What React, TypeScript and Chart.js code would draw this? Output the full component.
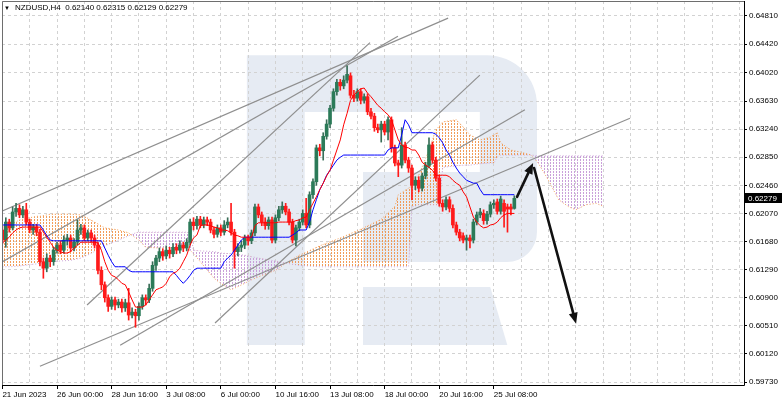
import React, { useEffect, useRef } from 'react';
import { Chart, registerables } from 'chart.js';

Chart.register(...registerables);

// ---------- data (bar index = position in arrays, H4 bars) ----------
const OPEN = [
  0.6184, 0.6170, 0.6195, 0.6187, 0.6209, 0.6214, 0.6205, 0.6212, 0.6195, 0.6184,
  0.6188, 0.6181, 0.6140, 0.6131, 0.6145, 0.6140, 0.6156, 0.6163, 0.6156, 0.6170,
  0.6173, 0.6159, 0.6167, 0.6184, 0.6187, 0.6173, 0.6180, 0.6173, 0.6163, 0.6128,
  0.6108, 0.6090, 0.6078, 0.6087, 0.6080, 0.6084, 0.6076, 0.6083, 0.6066, 0.6070,
  0.6065, 0.6078, 0.6090, 0.6087, 0.6103, 0.6135, 0.6145, 0.6154, 0.6148, 0.6156,
  0.6151, 0.6160, 0.6156, 0.6163, 0.6159, 0.6167, 0.6195, 0.6190, 0.6199, 0.6191,
  0.6198, 0.6195, 0.6184, 0.6178, 0.6187, 0.6181, 0.6191, 0.6195, 0.6181, 0.6154,
  0.6160, 0.6163, 0.6173, 0.6169, 0.6180, 0.6216, 0.6205, 0.6195, 0.6190, 0.6198,
  0.6170, 0.6201, 0.6212, 0.6217, 0.6209, 0.6195, 0.6170, 0.6187, 0.6195, 0.6207,
  0.6191, 0.6233, 0.6251, 0.6298, 0.6294, 0.6314, 0.6331, 0.6353, 0.6376, 0.6389,
  0.6384, 0.6392, 0.6398, 0.6371, 0.6367, 0.6376, 0.6364, 0.6369, 0.6348, 0.6342,
  0.6326, 0.6323, 0.6331, 0.6320, 0.6337, 0.6298, 0.6277, 0.6274, 0.6302, 0.6281,
  0.6270, 0.6246, 0.6253, 0.6242, 0.6259, 0.6274, 0.6302, 0.6281, 0.6256, 0.6221,
  0.6216, 0.6226, 0.6214, 0.6191, 0.6181, 0.6176, 0.6170, 0.6173, 0.6170, 0.6195,
  0.6205, 0.6207, 0.6197, 0.6206, 0.6219, 0.6223, 0.6210, 0.6221, 0.6216, 0.6216,
  0.62140,
];
const HIGH = [
  0.6190, 0.6201, 0.6199, 0.6216, 0.6221, 0.6219, 0.6217, 0.6221, 0.6199, 0.6192,
  0.6192, 0.6185, 0.6145, 0.6151, 0.6149, 0.6160, 0.6167, 0.6169, 0.6176, 0.6178,
  0.6177, 0.6172, 0.6198, 0.6192, 0.6191, 0.6184, 0.6184, 0.6177, 0.6167, 0.6133,
  0.6112, 0.6094, 0.6091, 0.6091, 0.6088, 0.6088, 0.6088, 0.6103, 0.6076, 0.6074,
  0.6083, 0.6094, 0.6094, 0.6109, 0.6140, 0.6149, 0.6159, 0.6158, 0.6162, 0.6160,
  0.6165, 0.6165, 0.6169, 0.6167, 0.6172, 0.6199, 0.6201, 0.6203, 0.6203, 0.6202,
  0.6202, 0.6199, 0.6188, 0.6191, 0.6191, 0.6197, 0.6201, 0.6221, 0.6185, 0.6165,
  0.6169, 0.6177, 0.6177, 0.6184, 0.6220, 0.6220, 0.6209, 0.6201, 0.6202, 0.6202,
  0.6205, 0.6217, 0.6223, 0.6221, 0.6213, 0.6199, 0.6191, 0.6199, 0.6212, 0.6228,
  0.6237, 0.6255, 0.6302, 0.6303, 0.6319, 0.6337, 0.6357, 0.6380, 0.6393, 0.6393,
  0.6398, 0.6412, 0.6402, 0.6378, 0.6380, 0.6380, 0.6373, 0.6373, 0.6353, 0.6346,
  0.6331, 0.6335, 0.6335, 0.6341, 0.6341, 0.6302, 0.6281, 0.6326, 0.6306, 0.6285,
  0.6274, 0.6258, 0.6258, 0.6263, 0.6278, 0.6312, 0.6306, 0.6285, 0.6260, 0.6226,
  0.6230, 0.6230, 0.6219, 0.6195, 0.6185, 0.6180, 0.6177, 0.6177, 0.6199, 0.6209,
  0.6214, 0.6212, 0.6210, 0.6223, 0.6226, 0.6227, 0.6231, 0.6226, 0.6220, 0.6220,
  0.62315,
];
const LOW = [
  0.6165, 0.6160, 0.6181, 0.6184, 0.6203, 0.6201, 0.6201, 0.6191, 0.6180, 0.6178,
  0.6176, 0.6134, 0.6117, 0.6126, 0.6133, 0.6135, 0.6152, 0.6151, 0.6152, 0.6163,
  0.6154, 0.6155, 0.6163, 0.6178, 0.6169, 0.6169, 0.6167, 0.6159, 0.6123, 0.6101,
  0.6084, 0.6071, 0.6074, 0.6073, 0.6076, 0.6070, 0.6071, 0.6059, 0.6062, 0.6049,
  0.6059, 0.6074, 0.6080, 0.6083, 0.6099, 0.6128, 0.6140, 0.6142, 0.6144, 0.6145,
  0.6147, 0.6151, 0.6152, 0.6154, 0.6155, 0.6163, 0.6184, 0.6185, 0.6187, 0.6187,
  0.6190, 0.6180, 0.6173, 0.6174, 0.6176, 0.6177, 0.6187, 0.6177, 0.6131, 0.6148,
  0.6154, 0.6158, 0.6163, 0.6165, 0.6176, 0.6201, 0.6190, 0.6185, 0.6185, 0.6166,
  0.6166, 0.6197, 0.6207, 0.6205, 0.6191, 0.6166, 0.6162, 0.6183, 0.6191, 0.6187,
  0.6187, 0.6228, 0.6246, 0.6287, 0.6281, 0.6310, 0.6326, 0.6349, 0.6371, 0.6378,
  0.6380, 0.6388, 0.6367, 0.6362, 0.6363, 0.6359, 0.6360, 0.6344, 0.6338, 0.6321,
  0.6319, 0.6306, 0.6316, 0.6309, 0.6292, 0.6273, 0.6258, 0.6270, 0.6277, 0.6264,
  0.6226, 0.6240, 0.6237, 0.6238, 0.6255, 0.6270, 0.6277, 0.6252, 0.6217, 0.6210,
  0.6212, 0.6209, 0.6187, 0.6177, 0.6169, 0.6166, 0.6156, 0.6159, 0.6166, 0.6191,
  0.6201, 0.6192, 0.6192, 0.6202, 0.6214, 0.6206, 0.6206, 0.6188, 0.6181, 0.6205,
  0.62129,
];
const CLOSE = [
  0.6170, 0.6195, 0.6187, 0.6209, 0.6214, 0.6205, 0.6212, 0.6195, 0.6184, 0.6188,
  0.6181, 0.6140, 0.6131, 0.6145, 0.6140, 0.6156, 0.6163, 0.6156, 0.6170, 0.6173,
  0.6159, 0.6167, 0.6184, 0.6187, 0.6173, 0.6180, 0.6173, 0.6163, 0.6128, 0.6108,
  0.6090, 0.6078, 0.6087, 0.6080, 0.6084, 0.6076, 0.6083, 0.6066, 0.6070, 0.6065,
  0.6078, 0.6090, 0.6087, 0.6103, 0.6135, 0.6145, 0.6154, 0.6148, 0.6156, 0.6151,
  0.6160, 0.6156, 0.6163, 0.6159, 0.6167, 0.6195, 0.6190, 0.6199, 0.6191, 0.6198,
  0.6195, 0.6184, 0.6178, 0.6187, 0.6181, 0.6191, 0.6195, 0.6181, 0.6154, 0.6160,
  0.6163, 0.6173, 0.6169, 0.6180, 0.6216, 0.6205, 0.6195, 0.6190, 0.6198, 0.6170,
  0.6201, 0.6212, 0.6217, 0.6209, 0.6195, 0.6170, 0.6187, 0.6195, 0.6207, 0.6191,
  0.6233, 0.6251, 0.6298, 0.6294, 0.6314, 0.6331, 0.6353, 0.6376, 0.6389, 0.6384,
  0.6392, 0.6400, 0.6371, 0.6367, 0.6376, 0.6364, 0.6369, 0.6348, 0.6342, 0.6326,
  0.6323, 0.6331, 0.6320, 0.6337, 0.6298, 0.6277, 0.6274, 0.6302, 0.6281, 0.6270,
  0.6246, 0.6253, 0.6242, 0.6259, 0.6274, 0.6302, 0.6281, 0.6256, 0.6221, 0.6216,
  0.6226, 0.6214, 0.6191, 0.6181, 0.6173, 0.6170, 0.6173, 0.6169, 0.6195, 0.6205,
  0.6209, 0.6197, 0.6206, 0.6219, 0.6221, 0.6210, 0.6227, 0.6210, 0.6213, 0.6213,
  0.62279,
];

// Ichimoku lines
const TENKAN = [
  0.6166, 0.6170, 0.6174, 0.6180, 0.6184, 0.6187, 0.6188, 0.6188, 0.6188, 0.6188,
  0.6188, 0.6188, 0.6181, 0.6174, 0.6167, 0.6160, 0.6156, 0.6154, 0.6152, 0.6152,
  0.6154, 0.6159, 0.6163, 0.6167, 0.6167, 0.6167, 0.6167, 0.6167, 0.6166, 0.6156,
  0.6140, 0.6128, 0.6121, 0.6119, 0.6115, 0.6110, 0.6108, 0.6098, 0.6087, 0.6077,
  0.6077, 0.6077, 0.6080, 0.6087, 0.6094, 0.6101, 0.6103, 0.6105, 0.6110, 0.6119,
  0.6124, 0.6126, 0.6131, 0.6140, 0.6149, 0.6163, 0.6173, 0.6177, 0.6190, 0.6191,
  0.6191, 0.6190, 0.6188, 0.6187, 0.6184, 0.6184, 0.6183, 0.6180, 0.6177, 0.6176,
  0.6174, 0.6174, 0.6174, 0.6174, 0.6190, 0.6194, 0.6194, 0.6194, 0.6194, 0.6194,
  0.6194, 0.6195, 0.6195, 0.6195, 0.6195, 0.6195, 0.6197, 0.6198, 0.6201, 0.6202,
  0.6212, 0.6221, 0.6230, 0.6240, 0.6249, 0.6259, 0.6267, 0.6281, 0.6295, 0.6309,
  0.6330, 0.6346, 0.6364, 0.6371, 0.6376, 0.6380, 0.6381, 0.6374, 0.6369, 0.6363,
  0.6357, 0.6353, 0.6348, 0.6344, 0.6337, 0.6323, 0.6309, 0.6302, 0.6299, 0.6298,
  0.6295, 0.6295, 0.6288, 0.6278, 0.6274, 0.6271, 0.6267, 0.6260, 0.6260, 0.6260,
  0.6260, 0.6258, 0.6253, 0.6249, 0.6246, 0.6237, 0.6230, 0.6216, 0.6202, 0.6195,
  0.6190, 0.6187, 0.6188, 0.6191, 0.6192, 0.6195, 0.6201, 0.6205, 0.6207, 0.6207,
  0.6207,
];
const KIJUN = [
  0.6191, 0.6191, 0.6191, 0.6191, 0.6191, 0.6191, 0.6191, 0.6191, 0.6191, 0.6191,
  0.6191, 0.6191, 0.6184, 0.6176, 0.6170, 0.6169, 0.6169, 0.6169, 0.6169, 0.6169,
  0.6169, 0.6169, 0.6169, 0.6169, 0.6169, 0.6169, 0.6169, 0.6169, 0.6169, 0.6169,
  0.6159, 0.6149, 0.6140, 0.6133, 0.6133, 0.6133, 0.6133, 0.6128, 0.6126, 0.6126,
  0.6126, 0.6126, 0.6126, 0.6126, 0.6126, 0.6126, 0.6126, 0.6126, 0.6126, 0.6126,
  0.6126, 0.6121, 0.6115, 0.6110, 0.6115, 0.6121, 0.6128, 0.6131, 0.6131, 0.6131,
  0.6131, 0.6131, 0.6131, 0.6131, 0.6131, 0.6140, 0.6145, 0.6149, 0.6156, 0.6163,
  0.6170, 0.6174, 0.6174, 0.6174, 0.6174, 0.6174, 0.6174, 0.6174, 0.6174, 0.6174,
  0.6174, 0.6174, 0.6174, 0.6174, 0.6174, 0.6177, 0.6180, 0.6184, 0.6184, 0.6184,
  0.6195, 0.6212, 0.6226, 0.6240, 0.6249, 0.6260, 0.6267, 0.6274, 0.6281, 0.6285,
  0.6288, 0.6288, 0.6288, 0.6288, 0.6288, 0.6288, 0.6288, 0.6288, 0.6288, 0.6288,
  0.6288, 0.6288, 0.6288, 0.6295, 0.6298, 0.6298, 0.6298, 0.6316, 0.6337, 0.6330,
  0.6319, 0.6319, 0.6319, 0.6319, 0.6319, 0.6319, 0.6319, 0.6317, 0.6312, 0.6305,
  0.6295, 0.6288, 0.6278, 0.6270, 0.6263, 0.6258, 0.6253, 0.6251, 0.6249, 0.6249,
  0.6240, 0.6233, 0.6233, 0.6233, 0.6233, 0.6233, 0.6233, 0.6233, 0.6233, 0.6233,
  0.6233,
];

// Kumo (shifted 26 bars ahead) read at these bar positions
const CLOUD_BARS = [
  0, 2, 5, 10, 11, 14, 17, 20, 23, 24, 27, 30, 34, 37, 39, 40, 42, 46, 52, 55,
  56, 58, 62, 64, 67, 71, 73, 75, 80, 81, 83, 87, 93, 99, 105, 111, 115, 116, 119, 120,
  122, 125, 127, 128, 129, 133, 135, 137, 140, 143, 144, 145, 146, 149, 152, 155, 157, 160, 163, 166,
  168, 171, 174, 176,
];
const SPAN_A = [
  0.6181, 0.6190, 0.6198, 0.6203, 0.6203, 0.6206, 0.6206, 0.6206, 0.6205, 0.6203,
  0.6195, 0.6187, 0.6184, 0.6180, 0.6173, 0.6170, 0.6160, 0.6159, 0.6160, 0.6156,
  0.6151, 0.6140, 0.6117, 0.6110, 0.6101, 0.6110, 0.6115, 0.6119, 0.6128, 0.6131,
  0.6138, 0.6149, 0.6162, 0.6173, 0.6185, 0.6199, 0.6217, 0.6233, 0.6242, 0.6245,
  0.6260, 0.6295, 0.6323, 0.6328, 0.6334, 0.6337, 0.6327, 0.6316, 0.6309, 0.6313,
  0.6316, 0.6319, 0.6305, 0.6295, 0.6292, 0.6288, 0.6277, 0.6253, 0.6226, 0.6216,
  0.6212, 0.6219, 0.6221, 0.6217,
];
const SPAN_B = [
  0.6133, 0.6133, 0.6134, 0.6137, 0.6138, 0.6140, 0.6141, 0.6142, 0.6145, 0.6147,
  0.6154, 0.6162, 0.6170, 0.6176, 0.6180, 0.6181, 0.6181, 0.6181, 0.6181, 0.6181,
  0.6156, 0.6155, 0.6154, 0.6152, 0.6151, 0.6149, 0.6147, 0.6145, 0.6141, 0.6140,
  0.6138, 0.6135, 0.6133, 0.6133, 0.6133, 0.6133, 0.6133, 0.6133, 0.6133, 0.6216,
  0.6219, 0.6219, 0.6219, 0.6219, 0.6271, 0.6273, 0.6274, 0.6274, 0.6276, 0.6277,
  0.6277, 0.6285, 0.6288, 0.6288, 0.6288, 0.6288, 0.6287, 0.6287, 0.6287, 0.6287,
  0.6287, 0.6287, 0.6287, 0.6287,
];

// hand-drawn trend lines (bar index, price)
const TREND_FROM_BAR = [-0.7, -0.7, 24.8, 11.0, 34.5, 62.3];
const TREND_FROM_PRICE = [0.6209, 0.6138, 0.6080, 0.5995, 0.6024, 0.6055];
const TREND_TO_BAR = [130.6, 115.9, 107.7, 183.9, 153.1, 139.9];
const TREND_TO_PRICE = [0.6478, 0.6453, 0.6444, 0.6339, 0.6351, 0.6399];

// forecast arrows
const ARROW_FROM_BAR = [150.8, 155.8];
const ARROW_FROM_PRICE = [0.6230, 0.6270];
const ARROW_TO_BAR = [155.5, 168.1];
const ARROW_TO_PRICE = [0.6277, 0.6054];

// axes
const X_LABEL_BARS = [0, 16, 32, 48, 64, 80, 96, 112, 128, 144];
const X_LABELS = ['21 Jun 2023', '26 Jun 00:00', '28 Jun 16:00', '3 Jul 08:00', '6 Jul 00:00', '10 Jul 16:00', '13 Jul 08:00', '18 Jul 00:00', '20 Jul 16:00', '25 Jul 08:00'];
const X_GRID_BARS = [0, 8, 16, 24, 32, 40, 48, 56, 64, 72, 80, 88, 96, 104, 112, 120, 128, 136, 144, 152, 160, 168, 176, 184, 192, 200, 208, 216];
const Y_TICKS = [0.6481, 0.6442, 0.6402, 0.6363, 0.6324, 0.6285, 0.6246, 0.6207, 0.6168, 0.6129, 0.6090, 0.6051, 0.6012, 0.5973];
const BAR_MIN = -0.12;
const BAR_MAX = 217.3;
const PRICE_MIN = 0.59689;
const PRICE_MAX = 0.65018;
const SYMBOL = 'NZDUSD,H4';

const FONT_FAMILY = "'Liberation Sans', Arial, 'DejaVu Sans', sans-serif";
const GREEN = '#2b7a58';
const RED = '#ff1a1a';

function dots(color: string): CanvasPattern | string {
  const c = document.createElement('canvas');
  c.width = 3;
  c.height = 3;
  const g = c.getContext('2d');
  if (!g) return color;
  g.fillStyle = color;
  g.fillRect(1, 0, 1, 2);
  return g.createPattern(c, 'repeat') || color;
}

export default function App() {
  const ref = useRef<HTMLCanvasElement>(null);

  useEffect(() => {
    const canvas = ref.current;
    if (!canvas) return;
    const n = OPEN.length;
    const bars = OPEN.map((_, i) => i);
    const up = bars.map((i) => CLOSE[i] >= OPEN[i]);
    const orangeDots = dots('rgba(240,140,60,0.85)');
    const purpleDots = dots('rgba(196,150,214,0.9)');

    const watermark = {
      id: 'watermark',
      beforeDraw(chart: any) {
        const { ctx, chartArea: a } = chart;
        const W = a.right - a.left;
        const H = a.bottom - a.top;
        const px = (f: number) => a.left + f * W;
        const py = (f: number) => a.top + f * H;
        ctx.save();
        ctx.fillStyle = '#ffffff';
        ctx.fillRect(0, 0, chart.width, chart.height);
        ctx.fillStyle = '#e6ebf3';
        ctx.beginPath();
        ctx.moveTo(px(0.330), py(0.141));
        ctx.lineTo(px(0.658), py(0.141));
        ctx.arcTo(px(0.721), py(0.141), px(0.721), py(0.26), 50);
        ctx.lineTo(px(0.721), py(0.60));
        ctx.arcTo(px(0.721), py(0.680), px(0.68), py(0.680), 30);
        ctx.lineTo(px(0.4865), py(0.680));
        ctx.lineTo(px(0.4865), py(0.445));
        ctx.lineTo(px(0.644), py(0.445));
        ctx.lineTo(px(0.644), py(0.289));
        ctx.lineTo(px(0.408), py(0.289));
        ctx.lineTo(px(0.408), py(0.896));
        ctx.lineTo(px(0.330), py(0.896));
        ctx.closePath();
        ctx.fill();
        ctx.beginPath();
        ctx.moveTo(px(0.4865), py(0.745));
        ctx.lineTo(px(0.658), py(0.745));
        ctx.lineTo(px(0.681), py(0.896));
        ctx.lineTo(px(0.4865), py(0.896));
        ctx.closePath();
        ctx.fill();
        ctx.restore();
      },
    };

    const overlay = {
      id: 'overlay',
      afterDatasetsDraw(chart: any) {
        const { ctx } = chart;
        const xs = chart.scales.x;
        const ys = chart.scales.y;
        ctx.save();
        ctx.strokeStyle = '#111';
        ctx.fillStyle = '#111';
        ctx.lineWidth = 2.6;
        ctx.lineCap = 'round';
        for (let k = 0; k < ARROW_FROM_BAR.length; k++) {
          const x1 = xs.getPixelForValue(ARROW_FROM_BAR[k]);
          const y1 = ys.getPixelForValue(ARROW_FROM_PRICE[k]);
          const x2 = xs.getPixelForValue(ARROW_TO_BAR[k]);
          const y2 = ys.getPixelForValue(ARROW_TO_PRICE[k]);
          const ang = Math.atan2(y2 - y1, x2 - x1);
          const len = 11;
          const hw = 4.5;
          const bx = x2 - Math.cos(ang) * len;
          const by = y2 - Math.sin(ang) * len;
          ctx.beginPath();
          ctx.moveTo(x1, y1);
          ctx.lineTo(bx, by);
          ctx.stroke();
          ctx.beginPath();
          ctx.moveTo(x2, y2);
          ctx.lineTo(bx + Math.sin(ang) * hw, by - Math.cos(ang) * hw);
          ctx.lineTo(bx - Math.sin(ang) * hw, by + Math.cos(ang) * hw);
          ctx.closePath();
          ctx.fill();
        }
        ctx.restore();
      },
      afterDraw(chart: any) {
        const { ctx, chartArea: a } = chart;
        const ys = chart.scales.y;
        ctx.save();
        // frame
        ctx.lineWidth = 1;
        ctx.strokeStyle = '#6e6e6e';
        ctx.beginPath();
        ctx.moveTo(Math.round(a.left) + 0.5, Math.round(a.bottom));
        ctx.lineTo(Math.round(a.left) + 0.5, Math.round(a.top) + 0.5);
        ctx.lineTo(Math.round(a.right), Math.round(a.top) + 0.5);
        ctx.stroke();
        ctx.strokeStyle = '#000';
        ctx.beginPath();
        ctx.moveTo(Math.round(a.left), Math.round(a.bottom) + 0.5);
        ctx.lineTo(Math.round(a.right) + 0.5, Math.round(a.bottom) + 0.5);
        ctx.lineTo(Math.round(a.right) + 0.5, Math.round(a.top));
        ctx.stroke();
        // title
        ctx.fillStyle = '#000';
        ctx.textBaseline = 'middle';
        ctx.font = `6px ${FONT_FAMILY}`;
        ctx.fillText('▼', 4, 8);
        ctx.font = `8px ${FONT_FAMILY}`;
        const last = n - 1;
        const ohlc = [OPEN[last], HIGH[last], LOW[last], CLOSE[last]].map((v) => v.toFixed(5)).join(' ');
        ctx.fillText(`${SYMBOL}  ${ohlc}`, 15, 8);
        // current price label
        const yp = Math.round(ys.getPixelForValue(CLOSE[last]));
        ctx.fillStyle = '#000';
        ctx.fillRect(Math.round(a.right) + 1, yp - 5, chart.width - Math.round(a.right) - 1, 10);
        ctx.fillStyle = '#fff';
        ctx.fillText(CLOSE[last].toFixed(5), Math.round(a.right) + 4, yp + 0.5);
        ctx.restore();
      },
    };

    const trendSets = TREND_FROM_BAR.map((_, k) => ({
      type: 'line' as const,
      label: `trend${k}`,
      data: [
        { x: TREND_FROM_BAR[k], y: TREND_FROM_PRICE[k] },
        { x: TREND_TO_BAR[k], y: TREND_TO_PRICE[k] },
      ],
      borderColor: '#8f8f8f',
      borderWidth: 1.2,
      pointRadius: 0,
      fill: false,
      order: 4,
    }));

    const font = { family: FONT_FAMILY, size: 8 };

    const chart = new Chart(canvas, {
      type: 'bar',
      data: {
        datasets: [
          {
            type: 'line',
            label: 'Tenkan-sen',
            data: bars.map((i) => ({ x: i, y: TENKAN[i] })),
            borderColor: '#ff0000',
            borderWidth: 1,
            pointRadius: 0,
            fill: false,
            order: 0,
          },
          {
            type: 'line',
            label: 'Kijun-sen',
            data: bars.map((i) => ({ x: i, y: KIJUN[i] })),
            borderColor: '#0000ff',
            borderWidth: 1,
            pointRadius: 0,
            fill: false,
            order: 1,
          },
          {
            type: 'bar',
            label: 'body',
            data: bars.map((i) => ({ x: i, y: [OPEN[i], CLOSE[i]] })),
            backgroundColor: up.map((u) => (u ? GREEN : RED)),
            borderWidth: 0,
            barThickness: 3,
            minBarLength: 1,
            grouped: false,
            order: 2,
          },
          {
            type: 'bar',
            label: 'wick',
            data: bars.map((i) => ({ x: i, y: [LOW[i], HIGH[i]] })),
            backgroundColor: up.map((u) => (u ? '#3a6e58' : RED)),
            borderWidth: 0,
            barThickness: 1,
            grouped: false,
            order: 3,
          },
          ...trendSets,
          {
            type: 'line',
            label: 'Senkou Span A',
            data: CLOUD_BARS.map((b, k) => ({ x: b, y: SPAN_A[k] })),
            borderColor: '#f4a460',
            borderWidth: 1,
            borderDash: [1, 2],
            pointRadius: 0,
            fill: { target: '+1', above: orangeDots, below: purpleDots },
            order: 5,
          },
          {
            type: 'line',
            label: 'Senkou Span B',
            data: CLOUD_BARS.map((b, k) => ({ x: b, y: SPAN_B[k] })),
            borderColor: '#cda6d9',
            borderWidth: 1,
            borderDash: [1, 2],
            pointRadius: 0,
            fill: false,
            order: 6,
          },
        ] as any,
      },
      options: {
        responsive: false,
        maintainAspectRatio: false,
        animation: false,
        events: [],
        layout: { padding: { left: 2, top: 1, right: 0, bottom: 0 } },
        plugins: {
          legend: { display: false },
          tooltip: { enabled: false },
          title: { display: false },
        },
        scales: {
          x: {
            type: 'linear',
            min: BAR_MIN,
            max: BAR_MAX,
            offset: false,
            afterBuildTicks: (s: any) => {
              s.ticks = X_GRID_BARS.map((v) => ({ value: v }));
            },
            afterFit: (s: any) => {
              s.height = 17;
              s.paddingLeft = 0;
              s.paddingRight = 0;
            },
            ticks: {
              autoSkip: false,
              maxRotation: 0,
              minRotation: 0,
              align: 'start',
              padding: 1,
              color: '#000',
              font,
              callback: (v: any) => {
                const k = X_LABEL_BARS.indexOf(Number(v));
                return k >= 0 ? X_LABELS[k] : '';
              },
            },
            grid: {
              offset: false,
              color: '#d2d2d2',
              lineWidth: 1,
              tickLength: 4,
              tickColor: (c: any) => (c.tick && X_LABEL_BARS.indexOf(c.tick.value) >= 0 ? '#000' : 'rgba(0,0,0,0)'),
            },
            border: { display: false, dash: [3, 3] },
          } as any,
          y: {
            type: 'linear',
            position: 'right',
            min: PRICE_MIN,
            max: PRICE_MAX,
            beginAtZero: false,
            afterBuildTicks: (s: any) => {
              s.ticks = Y_TICKS.map((v) => ({ value: v }));
            },
            afterFit: (s: any) => {
              s.width = 38;
              s.paddingTop = 0;
              s.paddingBottom = 0;
            },
            ticks: {
              autoSkip: false,
              padding: 2,
              color: '#000',
              font,
              callback: (v: any) => Number(v).toFixed(5),
            },
            grid: {
              color: '#d2d2d2',
              lineWidth: 1,
              tickLength: 3,
              tickColor: '#000',
            },
            border: { display: false, dash: [3, 3] },
          } as any,
        },
      },
      plugins: [watermark, overlay],
    });

    return () => chart.destroy();
  }, []);

  return (
    <div style={{ position: 'fixed', left: 0, top: 0, width: 782, height: 402, background: '#fff' }}>
      <canvas ref={ref} width={782} height={402} style={{ width: 782, height: 402, display: 'block' }} />
    </div>
  );
}
